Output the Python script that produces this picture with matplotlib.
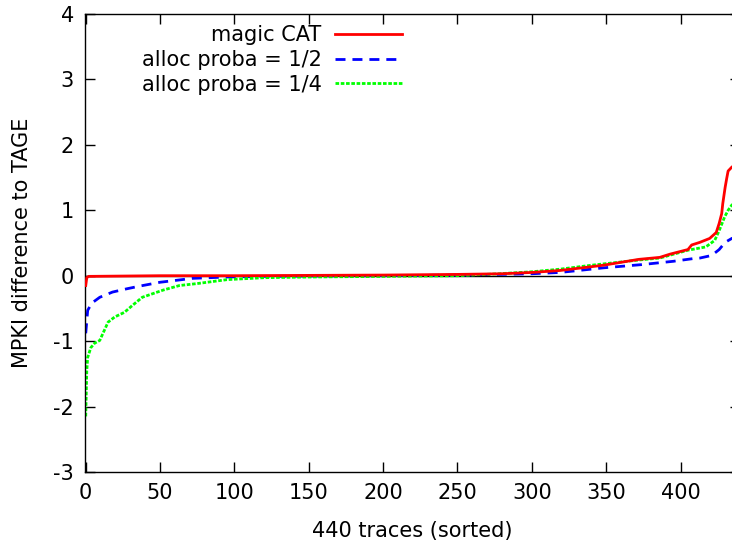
import numpy as np
import matplotlib.pyplot as plt

# значення (440 трас, відсортовані)
red_x = [0, 0.7, 2, 50, 100, 150, 200, 250, 280, 300, 319, 348, 372, 386, 393,
         405, 407.5, 413, 419.6, 424, 426, 427.7, 428.4, 430, 431, 432, 434.5, 437, 439]
red_y = [-0.15, -0.03, -0.01, 0, 0, 0.005, 0.01, 0.02, 0.03, 0.05, 0.08, 0.16, 0.25, 0.28, 0.33,
         0.40, 0.47, 0.51, 0.57, 0.66, 0.80, 0.95, 1.10, 1.35, 1.48, 1.60, 1.66, 1.70, 1.75]

blue_x = [0, 1.3, 4, 9.4, 18, 27.6, 36, 50, 72, 95, 120, 150, 200, 250, 278, 300,
          319, 348, 374, 395, 408, 413, 421, 426, 430, 434.5, 439]
blue_y = [-0.88, -0.53, -0.42, -0.33, -0.25, -0.20, -0.16, -0.10, -0.04, -0.02, -0.01, -0.005, 0,
          0.01, 0.02, 0.03, 0.05, 0.12, 0.17, 0.22, 0.26, 0.27, 0.31, 0.40, 0.51, 0.57, 0.60]

green_x = [0, 0.7, 1.3, 3.4, 6, 9.4, 15, 19.5, 26, 31.6, 38, 52, 63, 75, 95, 120, 150,
           200, 250, 278, 300, 319, 340, 372, 386, 405, 417, 423, 426, 429.7, 432, 434.5, 439]
green_y = [-2.15, -1.45, -1.25, -1.10, -1.03, -0.99, -0.71, -0.63, -0.56, -0.45, -0.33, -0.22,
           -0.15, -0.12, -0.06, -0.03, -0.02, -0.01, 0.0, 0.03, 0.06, 0.10, 0.16, 0.24, 0.27,
           0.39, 0.44, 0.54, 0.69, 0.90, 1.00, 1.08, 1.15]

labels = ['magic CAT', 'alloc proba = 1/2', 'alloc proba = 1/4']
x_ticks = [0, 50, 100, 150, 200, 250, 300, 350, 400]
y_ticks = [-3, -2, -1, 0, 1, 2, 3, 4]

plt.rcParams['font.family'] = 'DejaVu Sans'
plt.rcParams['font.size'] = 15
plt.rcParams['axes.unicode_minus'] = False

fig = plt.figure(figsize=(7.32, 5.44), dpi=100)
W, H = 732, 544
ax = fig.add_axes([85 / W, (H - 472) / H, (740 - 85) / W, (472 - 14) / H])

ax.axhline(0, color='black', lw=1.0, zorder=1)
ax.plot(red_x, red_y, color='#ff0000', lw=2.0, label=labels[0], zorder=3)
ax.plot(blue_x, blue_y, color='#0000ff', lw=2.0, dashes=(3.6, 2.5), label=labels[1], zorder=2)
ax.plot(green_x, green_y, color='#00ff00', lw=2.0, dashes=(1.3, 0.6), label=labels[2], zorder=2)

ax.set_xlim(-0.5, 440)
ax.set_ylim(-3, 4)
ax.set_xticks(x_ticks)
ax.set_yticks(y_ticks)
ax.tick_params(direction='in', length=7, width=1, top=True, right=True, pad=8)
for s in ax.spines.values():
    s.set_linewidth(1.0)

ax.set_xlabel('440 traces (sorted)', labelpad=13)
ax.set_ylabel('MPKI difference to TAGE', labelpad=15)

ax.legend(loc='upper right', bbox_to_anchor=(0.484, 0.975), frameon=False,
          markerfirst=False, handlelength=3.2, handletextpad=0.67,
          labelspacing=0.22, borderpad=0, borderaxespad=0)

fig.savefig('out.png', dpi=100)
